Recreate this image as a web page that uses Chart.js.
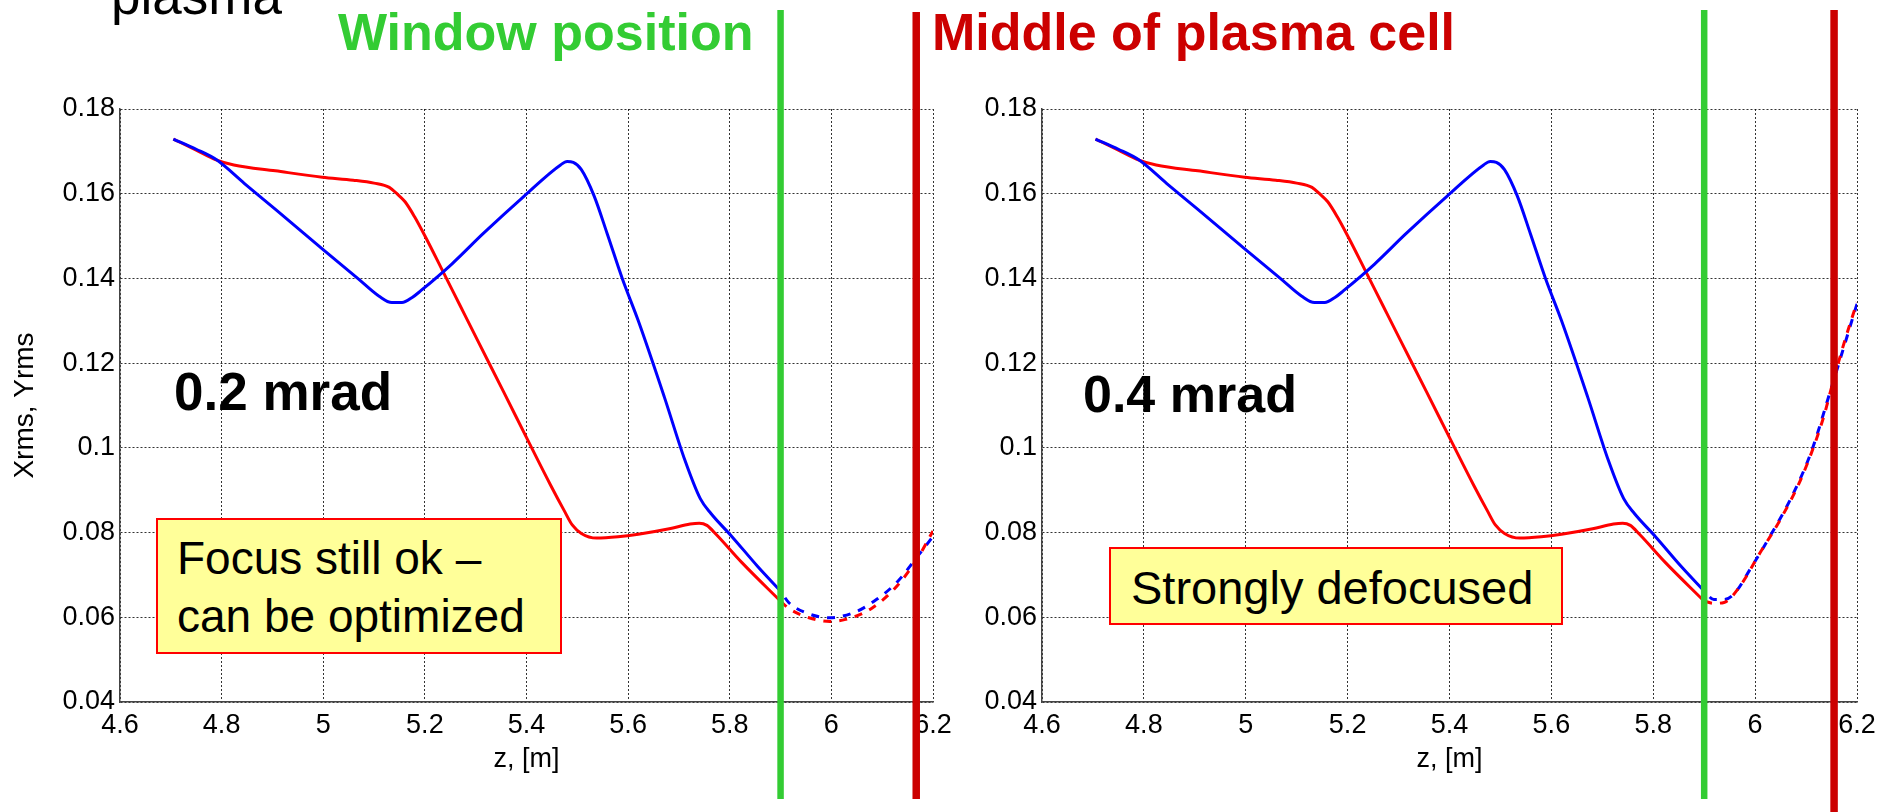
<!DOCTYPE html>
<html><head><meta charset="utf-8">
<script src="https://cdn.jsdelivr.net/npm/chart.js@4.4.0/dist/chart.umd.min.js"></script>
<style>
html,body{margin:0;padding:0;background:#fff;width:1879px;height:812px;overflow:hidden;position:relative;font-family:'Liberation Sans',Arial,sans-serif;}
canvas{position:absolute;top:0;}
#cL{left:0;} #cR{left:960px;}
.t{position:absolute;white-space:nowrap;line-height:1;color:#000;}
.b{font-weight:bold;}
.box{position:absolute;background:#FFFF99;border:2px solid #FF0000;box-sizing:border-box;}
</style></head><body>
<canvas id="cL" width="960" height="812"></canvas>
<canvas id="cR" width="919" height="812"></canvas>

<div class="t" style="left:111px;top:-31px;font-size:53px;">plasma</div>
<div class="t b" style="left:338px;top:6px;font-size:52px;color:#33CC33;">Window position</div>
<div class="t b" style="left:932px;top:6px;font-size:52px;color:#CC0000;">Middle of plasma cell</div>
<div class="t b" style="left:174px;top:365px;font-size:53px;">0.2 mrad</div>
<div class="t b" style="left:1083px;top:368px;font-size:52px;">0.4 mrad</div>
<div class="box" style="left:156px;top:518px;width:406px;height:136px;"></div>
<div class="t" style="left:177px;top:535px;font-size:46px;">Focus still ok –</div>
<div class="t" style="left:177px;top:593px;font-size:46px;">can be optimized</div>
<div class="box" style="left:1109px;top:547px;width:454px;height:78px;"></div>
<div class="t" style="left:1131px;top:564px;font-size:47px;">Strongly defocused</div>

<script>
// ---- tick values / labels ----
const xTickValues = [4.6, 4.8, 5.0, 5.2, 5.4, 5.6, 5.8, 6.0, 6.2];
const xTickLabels = ['4.6', '4.8', '5', '5.2', '5.4', '5.6', '5.8', '6', '6.2'];
const yTickValues = [0.04, 0.06, 0.08, 0.10, 0.12, 0.14, 0.16, 0.18];
const yTickLabels = ['0.04', '0.06', '0.08', '0.1', '0.12', '0.14', '0.16', '0.18'];

// ---- Xrms (blue), common part up to the window ----
const xrmsZ = [4.705, 4.75, 4.79, 4.845, 4.906, 4.998, 5.069, 5.11, 5.135, 5.155, 5.175, 5.192, 5.253, 5.314, 5.396, 5.467, 5.48, 5.492, 5.508, 5.533, 5.559, 5.589, 5.62, 5.671, 5.712, 5.742, 5.763, 5.804, 5.855, 5.9];
const xrms  = [0.1729, 0.1705, 0.168, 0.1624, 0.1563, 0.1470, 0.1399, 0.1358, 0.1343, 0.1343, 0.1355, 0.1371, 0.1434, 0.1505, 0.1595, 0.1668, 0.1676, 0.1674, 0.1657, 0.1595, 0.1505, 0.1398, 0.1300, 0.1121, 0.0970, 0.0880, 0.0845, 0.0791, 0.0720, 0.0662];

// ---- Yrms (red), common part up to the window ----
const yrmsZ = [4.705, 4.75, 4.789, 4.824, 4.906, 4.998, 5.059, 5.10, 5.130, 5.145, 5.161, 5.18, 5.202, 5.232, 5.268, 5.304, 5.355, 5.406, 5.447, 5.475, 5.49, 5.508, 5.538, 5.58, 5.62, 5.681, 5.722, 5.74, 5.755, 5.773, 5.824, 5.9];
const yrms  = [0.1729, 0.1703, 0.168, 0.1668, 0.1654, 0.1639, 0.1632, 0.1625, 0.1615, 0.1600, 0.1581, 0.1545, 0.1496, 0.1425, 0.1339, 0.1253, 0.1132, 0.1010, 0.0913, 0.0850, 0.0818, 0.0798, 0.0787, 0.0790, 0.0796, 0.0809, 0.0820, 0.0822, 0.0817, 0.0796, 0.0729, 0.0638];

// ---- 0.2 mrad: after the window (dashed) ----
const xrmsTailZ02 = [5.9, 5.916, 5.956, 5.997, 6.048, 6.09, 6.13, 6.171, 6.2];
const xrmsTail02  = [0.0662, 0.0635, 0.0608, 0.0599, 0.0613, 0.0643, 0.0684, 0.0746, 0.0791];
const yrmsTailZ02 = [5.9, 5.916, 5.956, 5.997, 6.028, 6.079, 6.13, 6.171, 6.2];
const yrmsTail02  = [0.0638, 0.0621, 0.0599, 0.0590, 0.0595, 0.0621, 0.0675, 0.0742, 0.0804];

// ---- 0.4 mrad: after the window (dashed) ----
const xrmsTailZ04 = [5.9, 5.919, 5.939, 5.96, 5.99, 6.03, 6.07, 6.11, 6.15, 6.2];
const xrmsTail04  = [0.0662, 0.0642, 0.0642, 0.0657, 0.0713, 0.0793, 0.0880, 0.0990, 0.1143, 0.1340];
const yrmsTailZ04 = [5.9, 5.919, 5.939, 5.970, 6.010, 6.051, 6.092, 6.133, 6.153, 6.174, 6.2];
const yrmsTail04  = [0.0638, 0.0633, 0.0635, 0.0673, 0.0753, 0.0834, 0.0932, 0.1067, 0.1156, 0.1245, 0.1344];

// ---- marker positions (z) ----
const windowZ = [5.9, 5.9];
const cellMiddleZ = [6.167, 6.155];

const pts = (zs, vs) => zs.map((z, i) => ({x: z, y: vs[i]}));

const FONT = "'Liberation Sans', Arial, sans-serif";

const markerPlugin = {
  id: 'markers',
  afterDraw(chart, args, opts) {
    const ctx = chart.ctx, xs = chart.scales.x;
    (opts.lines || []).forEach(l => {
      const px = xs.getPixelForValue(l.z);
      ctx.save();
      ctx.strokeStyle = l.color;
      ctx.lineWidth = l.width;
      ctx.beginPath();
      ctx.moveTo(px, l.y0);
      ctx.lineTo(px, l.y1);
      ctx.stroke();
      ctx.restore();
    });
  }
};

function makeChart(id, cfg) {
  const BLUE = '#0000FF', RED = '#FF0000';
  const common = {showLine: true, pointRadius: 0, borderWidth: 3, fill: false, cubicInterpolationMode: 'monotone'};
  return new Chart(document.getElementById(id), {
    type: 'scatter',
    data: {
      datasets: [
        Object.assign({label: 'Xrms', data: pts(xrmsZ, xrms), borderColor: BLUE}, common),
        Object.assign({label: 'Yrms', data: pts(yrmsZ, yrms), borderColor: RED}, common),
        Object.assign({label: 'Yrms tail', data: pts(cfg.yTailZ, cfg.yTail), borderColor: RED, borderDash: [8, 8]}, common),
        Object.assign({label: 'Xrms tail', data: pts(cfg.xTailZ, cfg.xTail), borderColor: BLUE, borderDash: [8, 8], borderDashOffset: 8}, common)
      ]
    },
    plugins: [markerPlugin],
    options: {
      responsive: false,
      animation: false,
      events: [],
      layout: {padding: {left: 0, top: 109, right: cfg.padRight, bottom: 30}},
      plugins: {
        legend: {display: false},
        tooltip: {enabled: false},
        markers: {lines: [
          {z: cfg.window, color: '#33CC33', width: 6.5, y0: 10, y1: 799},
          {z: cfg.cell, color: '#CC0000', width: 7.5, y0: cfg.cellY0, y1: cfg.cellY1}
        ]}
      },
      scales: {
        x: {
          type: 'linear', min: 4.6, max: 6.2,
          afterBuildTicks: s => { s.ticks = xTickValues.map(v => ({value: v})); },
          afterFit: s => { s.height = 80; s.paddingLeft = 0; s.paddingRight = 0; },
          ticks: {callback: (v, i) => xTickLabels[i], font: {family: FONT, size: 27}, color: '#000', padding: 7, maxRotation: 0, autoSkip: false},
          grid: {color: 'rgba(0,0,0,0.8)', lineWidth: 1, drawTicks: false},
          border: {display: true, color: '#444', width: 1.5, dash: [2, 2]},
          title: {display: true, text: 'z, [m]', font: {family: FONT, size: 27}, color: '#000', padding: {top: 0, bottom: 6}}
        },
        y: {
          type: 'linear', min: 0.04, max: 0.18,
          afterBuildTicks: s => { s.ticks = yTickValues.map(v => ({value: v})); },
          afterFit: s => { s.width = cfg.yWidth; s.paddingTop = 0; s.paddingBottom = 0; },
          ticks: {callback: (v, i) => yTickLabels[i], font: {family: FONT, size: 27}, color: '#000', padding: 5, autoSkip: false},
          grid: {color: 'rgba(0,0,0,0.8)', lineWidth: 1, drawTicks: false},
          border: {display: true, color: '#444', width: 1.5, dash: [2, 2]},
          title: {display: cfg.yTitle, text: 'Xrms, Yrms', font: {family: FONT, size: 28}, color: '#000', padding: {top: 8, bottom: 0}}
        }
      }
    }
  });
}

makeChart('cL', {
  xTailZ: xrmsTailZ02, xTail: xrmsTail02, yTailZ: yrmsTailZ02, yTail: yrmsTail02,
  window: windowZ[0], cell: cellMiddleZ[0], cellY0: 12, cellY1: 799,
  padRight: 27, yWidth: 120, yTitle: true
});
makeChart('cR', {
  xTailZ: xrmsTailZ04, xTail: xrmsTail04, yTailZ: yrmsTailZ04, yTail: yrmsTail04,
  window: windowZ[1], cell: cellMiddleZ[1], cellY0: 10, cellY1: 812,
  padRight: 22, yWidth: 82, yTitle: false
});
</script>
</body></html>
